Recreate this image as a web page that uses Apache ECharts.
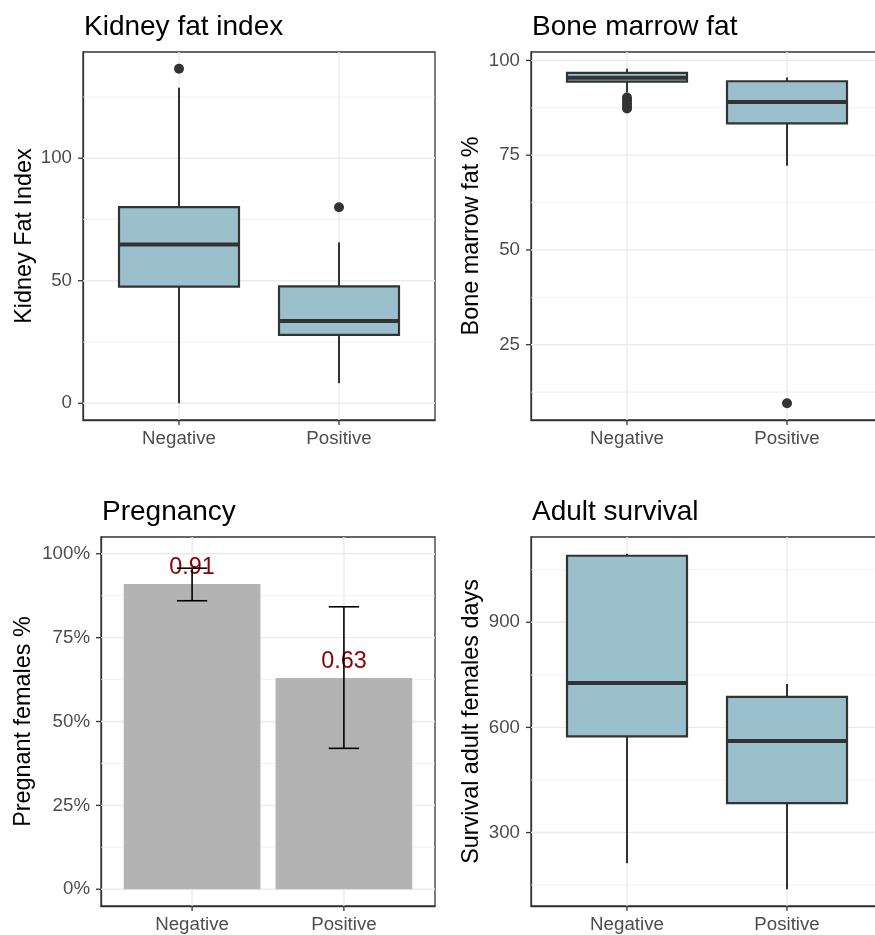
<!DOCTYPE html>
<html><head><meta charset="utf-8">
<script src="https://cdn.jsdelivr.net/npm/echarts@6/dist/echarts.min.js"></script>
<style>html,body{margin:0;padding:0;background:#fff}#c{width:875px;height:935px}</style>
</head><body><div id="c"></div>
<script>
// ---------- data ----------
const categories = ['Negative', 'Positive'];

// box stats per category: [lowerWhisker, Q1, median, Q3, upperWhisker]
const kidneyBoxes = [[0, 47.6, 64.8, 80.0, 128.7], [8.2, 27.9, 33.6, 47.7, 65.6]];
const kidneyOutliers = [[136.5], [80.0]];
const kidneyTicks = [0, 50, 100];
const kidneyMinor = [25, 75, 125];

const marrowBoxes = [[91.5, 94.4, 95.4, 96.7, 97.8], [72.2, 83.4, 89.0, 94.5, 95.5]];
const marrowOutliers = [[90.2, 89.5, 88.7, 87.9, 87.3], [9.55]];
const marrowTicks = [25, 50, 75, 100];
const marrowMinor = [12.5, 37.5, 62.5, 87.5];

const pregnancyRates = [0.91, 0.63];
const pregnancyLower = [0.86, 0.42];
const pregnancyUpper = [0.957, 0.842];
const pregnancyLimits = [0, 1];
const pregnancyTicks = [0, 0.25, 0.5, 0.75, 1];
const pregnancyMinor = [0.125, 0.375, 0.625, 0.875];

const survivalBoxes = [[212.6, 574.3, 726.9, 1089.7, 1095.4], [138.3, 384.0, 561.0, 686.9, 724.0]];
const survivalOutliers = [[], []];
const survivalTicks = [300, 600, 900];
const survivalMinor = [150, 450, 750, 1050];

const titles = ['Kidney fat index', 'Bone marrow fat', 'Pregnancy', 'Adult survival'];
const yNames = ['Kidney Fat Index', 'Bone marrow fat %', 'Pregnant females %', 'Survival adult females days'];

// ---------- helpers ----------
const FONT = '"Liberation Sans", Arial, Helvetica, sans-serif';
const DARK = '#333333';
const XMIN = 0.4, XMAX = 2.6;
const X_POS = [1, 2];

function expand(lo, hi) { const d = (hi - lo) * 0.05; return [lo - d, hi + d]; }
function boxExtent(boxes, outliers) {
  const all = [];
  boxes.forEach(b => all.push(...b));
  outliers.forEach(o => all.push(...o));
  return expand(Math.min(...all), Math.max(...all));
}

const panels = [
  { grid: { left: 83, top: 52, width: 352, height: 368 }, ext: boxExtent(kidneyBoxes, kidneyOutliers), ticks: kidneyTicks, minor: kidneyMinor, nameGap: 47, fmt: v => String(v) },
  { grid: { left: 531, top: 52, width: 352, height: 368 }, ext: boxExtent(marrowBoxes, marrowOutliers), ticks: marrowTicks, minor: marrowMinor, nameGap: 48, fmt: v => String(v) },
  { grid: { left: 101, top: 537, width: 334, height: 369 }, ext: expand(pregnancyLimits[0], pregnancyLimits[1]), ticks: pregnancyTicks, minor: pregnancyMinor, nameGap: 66, fmt: v => Math.round(v * 100) + '%' },
  { grid: { left: 531, top: 537, width: 352, height: 369 }, ext: boxExtent(survivalBoxes, survivalOutliers), ticks: survivalTicks, minor: survivalMinor, nameGap: 48, fmt: v => String(v) }
];

// kind: 0 = horizontal grid line, 1 = vertical grid line, 2 = y tick, 3 = x tick
function gridLineItem(params, api) {
  const cs = params.coordSys;
  const p = api.coord([api.value(0), api.value(1)]);
  const major = api.value(2) === 1;
  const kind = api.value(3);
  if (kind === 2) {
    return { type: 'line', shape: { x1: cs.x - 5, y1: p[1], x2: cs.x, y2: p[1] }, style: { stroke: DARK, lineWidth: 1.3 } };
  }
  if (kind === 3) {
    return { type: 'line', shape: { x1: p[0], y1: cs.y + cs.height, x2: p[0], y2: cs.y + cs.height + 5 }, style: { stroke: DARK, lineWidth: 1.3 } };
  }
  const shape = kind === 1
    ? { x1: p[0], y1: cs.y, x2: p[0], y2: cs.y + cs.height }
    : { x1: cs.x, y1: p[1], x2: cs.x + cs.width, y2: p[1] };
  return { type: 'line', shape, style: { stroke: '#EBEBEB', lineWidth: major ? 1.4 : 0.7 } };
}

function boxItem(params, api) {
  const x = api.value(0);
  const lo = api.coord([x, api.value(1)]);
  const q1 = api.coord([x, api.value(2)]);
  const md = api.coord([x, api.value(3)]);
  const q3 = api.coord([x, api.value(4)]);
  const hi = api.coord([x, api.value(5)]);
  const w = api.size([0.75, 0])[0];
  const cx = lo[0];
  return { type: 'group', children: [
    { type: 'line', shape: { x1: cx, y1: q1[1], x2: cx, y2: lo[1] }, style: { stroke: DARK, lineWidth: 2 } },
    { type: 'line', shape: { x1: cx, y1: q3[1], x2: cx, y2: hi[1] }, style: { stroke: DARK, lineWidth: 2 } },
    { type: 'rect', shape: { x: cx - w / 2, y: q3[1], width: w, height: q1[1] - q3[1] }, style: { fill: '#9AC0CD', stroke: DARK, lineWidth: 2.2 } },
    { type: 'line', shape: { x1: cx - w / 2, y1: md[1], x2: cx + w / 2, y2: md[1] }, style: { stroke: DARK, lineWidth: 4 } }
  ] };
}

function barItem(params, api) {
  const x = api.value(0);
  const top = api.coord([x, api.value(1)]);
  const base = api.coord([x, 0]);
  const w = api.size([0.9, 0])[0];
  return { type: 'rect', shape: { x: top[0] - w / 2, y: top[1], width: w, height: base[1] - top[1] }, style: { fill: '#B3B3B3' } };
}

function labelItem(params, api) {
  const x = api.value(0), v = api.value(1);
  const top = api.coord([x, v]);
  return { type: 'text', x: top[0], y: top[1] - 5, style: { text: v.toFixed(2), fill: '#8B0000', fontSize: 23.4, fontFamily: FONT, align: 'center', verticalAlign: 'bottom' } };
}

function errItem(params, api) {
  const x = api.value(0);
  const lo = api.coord([x, api.value(1)]);
  const hi = api.coord([x, api.value(2)]);
  const cw = api.size([0.2, 0])[0];
  const cx = lo[0];
  const st = { stroke: '#000', lineWidth: 1.6 };
  return { type: 'group', children: [
    { type: 'line', shape: { x1: cx, y1: lo[1], x2: cx, y2: hi[1] }, style: st },
    { type: 'line', shape: { x1: cx - cw / 2, y1: lo[1], x2: cx + cw / 2, y2: lo[1] }, style: st },
    { type: 'line', shape: { x1: cx - cw / 2, y1: hi[1], x2: cx + cw / 2, y2: hi[1] }, style: st }
  ] };
}

// ---------- option ----------
const option = { animation: false, backgroundColor: '#fff', title: [], grid: [], xAxis: [], yAxis: [], series: [] };

panels.forEach((p, i) => {
  option.title.push({ text: titles[i], left: p.grid.left + 1, top: p.grid.top - 39, padding: 0,
    textStyle: { fontSize: 28, fontWeight: 'normal', color: '#000', fontFamily: FONT } });
  option.grid.push(Object.assign({ show: true, borderColor: DARK, borderWidth: 1.3, backgroundColor: '#fff', containLabel: false, outerBoundsMode: 'none' }, p.grid));
  option.xAxis.push({ type: 'value', gridIndex: i, min: XMIN, max: XMAX, position: 'bottom',
    axisLine: { show: true, onZero: false, lineStyle: { color: DARK, width: 1.3 } },
    axisTick: { show: false },
    axisLabel: { customValues: X_POS, formatter: v => categories[Math.round(v) - 1], color: '#4D4D4D', fontSize: 18.7, fontFamily: FONT, margin: 9 },
    splitLine: { show: false } });
  option.yAxis.push({ type: 'value', gridIndex: i, min: p.ext[0], max: p.ext[1], position: 'left',
    name: yNames[i], nameLocation: 'middle', nameGap: p.nameGap,
    nameTextStyle: { fontSize: 23.4, color: '#000', fontFamily: FONT },
    axisLine: { show: true, onZero: false, lineStyle: { color: DARK, width: 1.3 } },
    axisTick: { show: false },
    axisLabel: { customValues: p.ticks, formatter: p.fmt, color: '#4D4D4D', fontSize: 18.7, fontFamily: FONT, margin: 11 },
    splitLine: { show: false } });

  const midY = (p.ext[0] + p.ext[1]) / 2;
  const gl = [];
  p.ticks.forEach(v => gl.push([1.5, v, 1, 0]));
  p.minor.forEach(v => gl.push([1.5, v, 0, 0]));
  X_POS.forEach(v => gl.push([v, midY, 1, 1]));
  option.series.push({ type: 'custom', xAxisIndex: i, yAxisIndex: i, z: 1, silent: true, renderItem: gridLineItem, data: gl });
  const tk = [];
  p.ticks.forEach(v => tk.push([1.5, v, 1, 2]));
  X_POS.forEach(v => tk.push([v, midY, 1, 3]));
  option.series.push({ type: 'custom', xAxisIndex: i, yAxisIndex: i, z: 5, silent: true, clip: false, renderItem: gridLineItem, data: tk });
});

function addBoxPanel(i, boxes, outliers) {
  option.series.push({ type: 'custom', xAxisIndex: i, yAxisIndex: i, z: 2, renderItem: boxItem,
    encode: { x: 0, y: [1, 2, 3, 4, 5] }, data: boxes.map((b, k) => [X_POS[k]].concat(b)) });
  const pts = [];
  outliers.forEach((o, k) => o.forEach(v => pts.push([X_POS[k], v])));
  option.series.push({ type: 'scatter', xAxisIndex: i, yAxisIndex: i, z: 3, symbolSize: 10,
    itemStyle: { color: DARK, opacity: 1 }, data: pts });
}
addBoxPanel(0, kidneyBoxes, kidneyOutliers);
addBoxPanel(1, marrowBoxes, marrowOutliers);
addBoxPanel(3, survivalBoxes, survivalOutliers);

option.series.push({ type: 'custom', xAxisIndex: 2, yAxisIndex: 2, z: 2, renderItem: barItem,
  data: pregnancyRates.map((v, k) => [X_POS[k], v]) });
option.series.push({ type: 'custom', xAxisIndex: 2, yAxisIndex: 2, z: 3, renderItem: labelItem,
  data: pregnancyRates.map((v, k) => [X_POS[k], v]) });
option.series.push({ type: 'custom', xAxisIndex: 2, yAxisIndex: 2, z: 4, renderItem: errItem,
  encode: { x: 0, y: [1, 2] }, data: pregnancyRates.map((v, k) => [X_POS[k], pregnancyLower[k], pregnancyUpper[k]]) });

const chart = echarts.init(document.getElementById('c'), null, { renderer: 'canvas' });
chart.setOption(option);
</script></body></html>
